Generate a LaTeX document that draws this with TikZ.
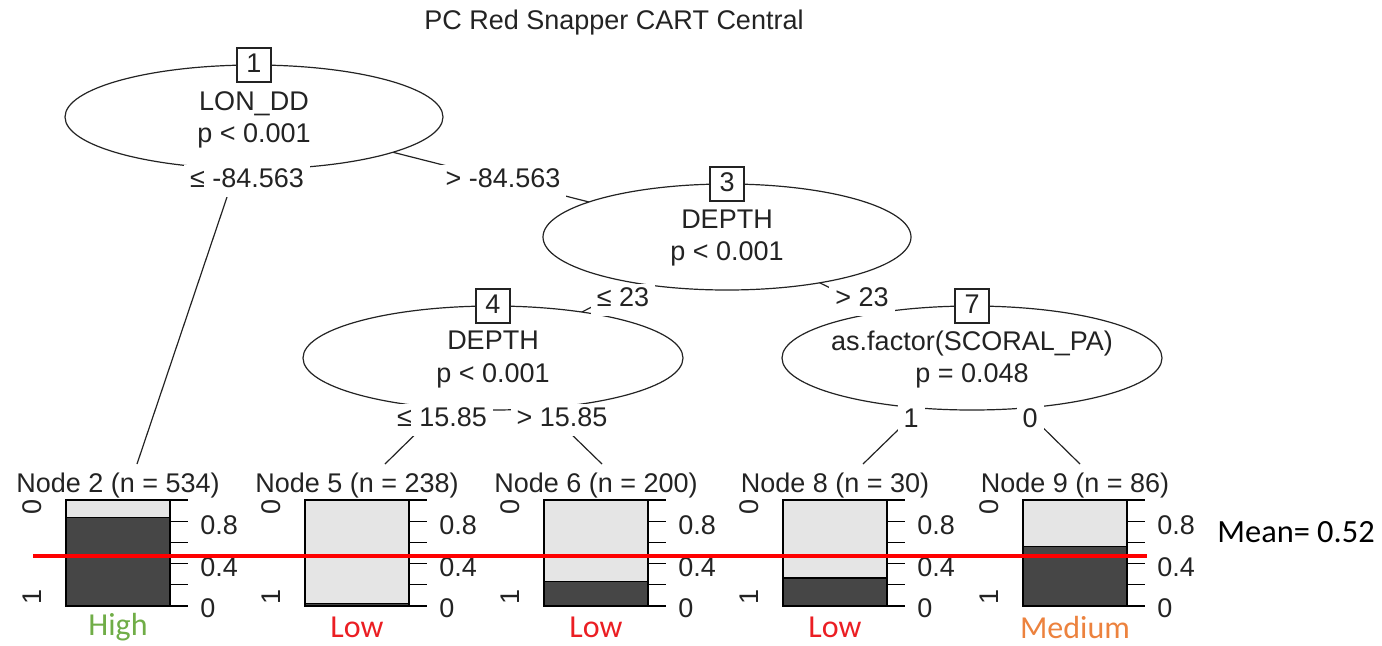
\documentclass[tikz,border=0pt]{standalone}
\usepackage{fontspec}
\setmainfont{Liberation Sans}
\newfontfamily\calibri{Carlito}
\usetikzlibrary{shapes.geometric}
\pgfdeclarelayer{background}
\pgfsetlayers{background,main}
\definecolor{ink}{RGB}{35,35,35}
\definecolor{bardark}{RGB}{70,70,70}
\definecolor{barlight}{RGB}{229,229,229}
\definecolor{meanred}{RGB}{255,0,0}
\definecolor{highgreen}{RGB}{112,173,71}
\definecolor{lowred}{RGB}{235,30,35}
\definecolor{medorange}{RGB}{236,130,62}
\newcommand\termpanel[6]{%
  \node[termlabel] (t#1) at ({#2+52},487) {#3};
  \fill[barlight] (#2,500) rectangle ({#2+104},606);
  \fill[bardark] (#2,606) rectangle ({#2+104},{606-106*#4});
  \draw[thinline] (#2,{606-106*#4}) -- ({#2+104},{606-106*#4});
  \draw[thinline] (#2,500) rectangle ({#2+104},606);
  \foreach \k in {0,...,5} {\draw[thinline] ({#2+104},{606-21.2*\k}) -- ({#2+122},{606-21.2*\k});}
  \node[ticklabel] (t#1y8) at ({#2+134},525) {0.8};
  \node[ticklabel] (t#1y4) at ({#2+134},567) {0.4};
  \node[ticklabel] (t#1y0) at ({#2+134},608) {0};
  \node[rotate=90] (t#1c0) at ({#2-34},507) {0};
  \node[rotate=90] (t#1c1) at ({#2-34},597) {1};
  \node[classlabel, text=#6] (t#1cls) at ({#2+52},627) {#5};
}
\begin{document}
\begin{tikzpicture}[x=0.5pt,y=-0.5pt,
  every node/.style={font=\fontsize{13.5}{15}\selectfont, text=ink, inner sep=0pt},
  splitnode/.style={ellipse, draw=ink, fill=white, line width=0.6pt, inner sep=0pt, outer sep=0pt},
  idbox/.style={draw=ink, fill=white, line width=0.6pt, minimum size=17pt, inner sep=0pt, text height=0.72em, text depth=0pt},
  edgelabel/.style={fill=white, inner xsep=3pt, inner ysep=4pt, text height=0.72em, text depth=0.1em},
  splittext/.style={text height=0.72em, text depth=0.15em},
  termlabel/.style={text height=0.72em, text depth=0.2em},
  ticklabel/.style={anchor=west},
  classlabel/.style={font=\calibri\fontsize{16}{18}\selectfont},
  edge/.style={draw=ink, line width=0.6pt},
  thinline/.style={draw=black, line width=0.6pt}
]
\useasboundingbox (0,0) rectangle (1382,645);

% title
\node (title) at (614,23) {PC Red Snapper CART Central};

% inner nodes
\node[splitnode, minimum width=189pt, minimum height=52pt] (n1) at (254,117) {};
\node[splitnode, minimum width=184pt, minimum height=53pt] (n3) at (727,237) {};
\node[splitnode, minimum width=190pt, minimum height=52pt] (n4) at (493,358) {};
\node[splitnode, minimum width=190pt, minimum height=52pt] (n7) at (972,358) {};

\node[idbox] (b1) at (n1.north) {1};
\node[idbox] (b3) at (n3.north) {3};
\node[idbox] (b4) at (n4.north) {4};
\node[idbox] (b7) at (n7.north) {7};

\node[splittext] (n1a) at (254,105) {LON\_DD};
\node[splittext] (n1b) at (254,137) {p < 0.001};
\node[splittext] (n3a) at (727,223) {DEPTH};
\node[splittext] (n3b) at (727,255) {p < 0.001};
\node[splittext] (n4a) at (493,344) {DEPTH};
\node[splittext] (n4b) at (493,377) {p < 0.001};
\node[splittext] (n7a) at (972,345) {as.factor(SCORAL\_PA)};
\node[splittext] (n7b) at (972,377) {p = 0.048};

% terminal panels
\termpanel{2}{66}{Node 2 (n = 534)}{0.835}{High}{highgreen}
\termpanel{5}{305}{Node 5 (n = 238)}{0.025}{Low}{lowred}
\termpanel{6}{544}{Node 6 (n = 200)}{0.23}{Low}{lowred}
\termpanel{8}{783}{Node 8 (n = 30)}{0.265}{Low}{lowred}
\termpanel{9}{1023}{Node 9 (n = 86)}{0.56}{Medium}{medorange}

% edge end points at the terminal labels
\coordinate (e2) at (137,464);
\coordinate (e5) at (385,464);
\coordinate (e6) at (602,464);
\coordinate (e8) at (863,464);
\coordinate (e9) at (1080,464);

\begin{pgfonlayer}{background}
  \draw[edge] (n1.center) -- (e2);
  \draw[edge] (n1.center) -- (n3.center);
  \draw[edge] (n3.center) -- (n4.center);
  \draw[edge] (n3.center) -- (n7.center);
  \draw[edge] (n4.center) -- (e5);
  \draw[edge] (n4.center) -- (e6);
  \draw[edge] (n7.center) -- (e8);
  \draw[edge] (n7.center) -- (e9);
\end{pgfonlayer}

% edge labels
\node[edgelabel] (l12) at (247,181) {≤ -84.563};
\node[edgelabel] (l13) at (503,181) {> -84.563};
\node[edgelabel] (l34) at (623,300) {≤ 23};
\node[edgelabel] (l37) at (862,300) {> 23};
\node[edgelabel] (l45) at (442,420) {≤ 15.85};
\node[edgelabel] (l46) at (562,420) {> 15.85};
\node[edgelabel] (l78) at (911,421) {1};
\node[edgelabel] (l79) at (1030,421) {0};

% mean line
\coordinate (m0) at (33,556);
\coordinate (m1) at (1147,556);
\draw[meanred, line width=2pt] (m0) -- (m1);
\node[anchor=west, font=\calibri\fontsize{16.2}{18}\selectfont, text=black] (mean) at (1217,532) {Mean= 0.52};
\end{tikzpicture}
\end{document}
